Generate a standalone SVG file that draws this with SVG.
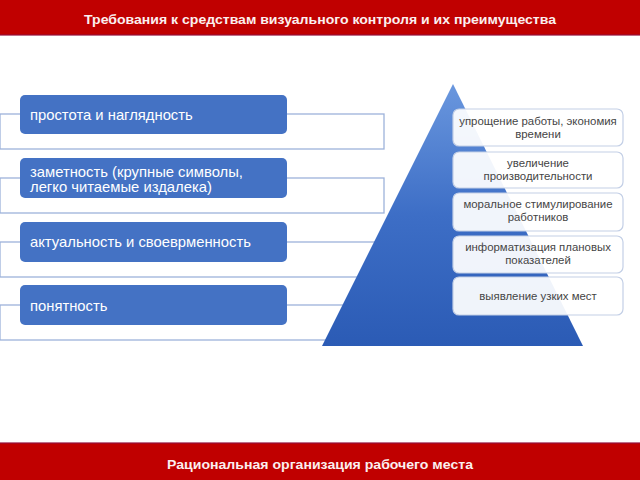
<svg xmlns="http://www.w3.org/2000/svg" width="640" height="480" viewBox="0 0 640 480">
<defs>
<linearGradient id="pyr" x1="0" y1="0" x2="0" y2="1">
<stop offset="0" stop-color="#6A97DE"/>
<stop offset="0.5" stop-color="#3D6EC6"/>
<stop offset="1" stop-color="#2B5BB5"/>
</linearGradient>
<style>
.bar{fill:#C00000;stroke:#94103A;stroke-width:1.2}
.bartxt{font-family:"Liberation Sans",Arial,sans-serif;font-weight:bold;font-size:13.5px;fill:#FBEFEF;text-anchor:middle}
.frame{fill:none;stroke:#9DB2DA;stroke-width:1.3}
.lbox{fill:#4472C4;stroke:none}
.ltxt{font-family:"Liberation Sans",Arial,sans-serif;font-size:14.8px;fill:#FFFFFF}
.rbox{fill:#FFFFFF;fill-opacity:0.93;stroke:#C3CFE6;stroke-width:1.2}
.rtxt{font-family:"Liberation Sans",Arial,sans-serif;font-size:11.4px;fill:#454545;text-anchor:middle}
</style>
</defs>
<rect width="640" height="480" fill="#FFFFFF"/>

<g id="header">
<rect class="bar" x="-1" y="-1" width="642" height="36"/>
<text class="bartxt" x="320" y="24" textLength="472" lengthAdjust="spacingAndGlyphs">Требования к средствам визуального контроля и их преимущества</text>
</g>

<g id="connectors">
<rect class="frame" x="0" y="114" width="384" height="35"/>
<rect class="frame" x="0" y="178" width="384" height="35"/>
<rect class="frame" x="0" y="242" width="384" height="35"/>
<rect class="frame" x="0" y="305" width="384" height="35"/>
</g>

<g id="left1">
<rect class="lbox" x="20" y="95" width="267" height="39" rx="5"/>
<text class="ltxt" x="30" y="120">простота и наглядность</text>
</g>
<g id="left2">
<rect class="lbox" x="20" y="158" width="267" height="40" rx="5"/>
<text class="ltxt" x="30" y="177">заметность (крупные символы,</text>
<text class="ltxt" x="30" y="192">легко читаемые издалека)</text>
</g>
<g id="left3">
<rect class="lbox" x="20" y="222" width="267" height="40" rx="5"/>
<text class="ltxt" x="30" y="247">актуальность и своеврменность</text>
</g>
<g id="left4">
<rect class="lbox" x="20" y="285" width="267" height="40" rx="5"/>
<text class="ltxt" x="30" y="311">понятность</text>
</g>

<g id="pyramid">
<polygon points="453,84 583,346 322,346" fill="url(#pyr)"/>
</g>

<g id="right1">
<rect class="rbox" x="453" y="109" width="170" height="37" rx="6"/>
<text class="rtxt" x="538" y="125">упрощение работы, экономия</text>
<text class="rtxt" x="538" y="138">времени</text>
</g>
<g id="right2">
<rect class="rbox" x="453" y="152" width="170" height="36" rx="6"/>
<text class="rtxt" x="538" y="167">увеличение</text>
<text class="rtxt" x="538" y="180">производительности</text>
</g>
<g id="right3">
<rect class="rbox" x="453" y="193" width="170" height="38" rx="6"/>
<text class="rtxt" x="538" y="208">моральное стимулирование</text>
<text class="rtxt" x="538" y="221">работников</text>
</g>
<g id="right4">
<rect class="rbox" x="453" y="236" width="170" height="37" rx="6"/>
<text class="rtxt" x="538" y="251">информатизация плановых</text>
<text class="rtxt" x="538" y="264">показателей</text>
</g>
<g id="right5">
<rect class="rbox" x="453" y="277" width="170" height="38" rx="6"/>
<text class="rtxt" x="538" y="300">выявление узких мест</text>
</g>

<g id="footer">
<rect class="bar" x="-1" y="443" width="642" height="38"/>
<text class="bartxt" x="320" y="469" textLength="306" lengthAdjust="spacingAndGlyphs">Рациональная организация рабочего места</text>
</g>
</svg>
